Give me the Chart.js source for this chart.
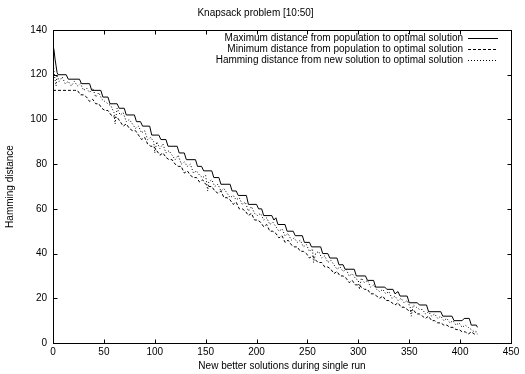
<!DOCTYPE html>
<html><head><meta charset="utf-8">
<script src="https://cdn.jsdelivr.net/npm/chart.js@4/dist/chart.umd.min.js"></script>
<style>html,body{margin:0;padding:0;background:#fff}#wrap{width:525px;height:374px}</style>
</head><body><div id="wrap"><canvas id="c" width="525" height="374"></canvas></div>
<script>
const titleText = 'Knapsack problem [10:50]';
const xTitle = 'New better solutions during single run';
const yTitle = 'Hamming distance';
const seriesLabels = [
  'Maximum distance from population to optimal solution',
  'Minimum distance from population to optimal solution',
  'Hamming distance from new solution to optimal solution'
];
const xTickStep = 50, xMax = 450, yTickStep = 20, yMax = 140;

const maxX = [0,1,2,3,4,5,13,15,26,28,36,38,47,49,54,56,63,65,70,72,80,82,86,88,95,97,104,106,111,113,122,124,129,131,140,142,146,148,156,158,163,165,174,176,180,182,190,192,200,202,205,207,215,217,219,221,228,230,236,238,245,247,252,254,263,265,270,272,279,281,285,287,296,298,307,309,315,317,326,328,334,336,339,341,348,350,358,360,367,369,381,383,392,394,402,404,409,411,416,417];
const maxY = [133,131,127,124,121,120,120,118,118,116,116,113,113,110,110,107,107,105,105,102,102,99,99,97,97,93,93,91,91,88,88,85,85,82,82,79,79,77,77,74,74,71,71,68,68,66,66,62,62,60,60,57,57,55,56,53,53,50,50,48,48,45,45,43,43,40,40,38,38,35,35,33,33,30,30,28,28,25,25,24,24,22,23,21,21,18,18,17,17,14,14,12,12,10,10,11,11,8,8,7];

const minX = [0,17,21,24,27,30,33,36,39,42,45,48,51,54,57,60,63,66,69,72,75,78,81,84,87,90,93,96,99,102,105,108,111,114,117,120,123,126,129,132,135,138,141,144,147,150,153,156,159,162,165,168,171,174,177,180,183,186,189,192,195,198,201,204,207,210,213,216,219,222,225,228,231,234,237,240,243,246,249,252,255,258,261,264,267,270,273,276,279,282,285,288,291,294,297,300,303,306,309,312,315,318,321,324,327,330,333,336,339,342,345,348,351,354,357,360,363,366,369,372,375,378,381,384,387,390,393,396,399,402,405,408,411,414,417];
const minY = [113,113,113,113,111,111,110,108,109,107,107,105,104,104,102,101,101,99,97,98,96,95,95,93,91,92,89,88,88,86,84,85,83,82,82,80,79,79,76,77,75,74,74,72,73,71,70,70,68,67,68,65,65,64,62,63,60,60,59,57,58,55,55,54,52,53,50,50,49,47,48,45,46,44,43,43,41,41,40,38,39,37,36,36,34,34,33,31,32,30,30,29,27,28,26,26,25,24,24,22,22,21,20,21,19,19,18,17,18,16,16,15,14,15,13,13,12,11,12,10,10,9,9,8,8,7,7,6,6,5,5,4,5,4,4];

const hamX = [0,1,2,3,4,6,9,12,15,18,21,24,27,30,33,36,39,42,45,48,51,54,57,60,61,63,66,69,72,75,78,81,84,87,90,93,96,99,100,102,105,108,111,114,117,120,123,126,129,132,135,138,141,144,147,150,152,153,156,159,162,165,168,171,174,177,180,183,186,189,192,195,198,201,204,207,210,213,216,219,222,225,228,231,234,237,240,243,246,249,252,255,256,258,261,264,267,270,273,276,279,282,285,288,291,294,297,300,301,303,306,309,312,315,318,321,324,327,330,333,336,339,342,345,348,351,352,354,357,360,363,366,369,372,375,378,381,384,387,390,393,396,399,402,405,408,411,414,417];
const hamY = [127,121,118,115,120,117,119,116,117,115,117,115,116,113,114,112,114,110,112,109,108,107,106,103,98,105,102,103,99,100,98,96,97,94,95,91,92,90,85,90,87,89,85,86,84,82,84,80,81,79,80,76,77,75,74,75,68,72,73,70,71,68,69,67,65,66,64,65,62,63,59,61,58,57,58,55,56,53,54,52,50,51,48,49,46,47,45,46,43,44,41,42,36,40,41,38,39,36,37,35,33,34,32,33,30,31,29,28,24,29,27,28,25,26,24,23,24,22,23,20,21,19,20,18,19,16,12,17,16,15,15,13,14,12,13,11,12,10,11,9,10,8,9,7,8,7,6,5,5];

const xyData = (xs, ys) => xs.map((v, i) => ({x: v, y: ys[i]}));

Chart.defaults.font.family = "'Liberation Sans', Arial, Helvetica, sans-serif";
Chart.defaults.font.size = 10;
Chart.defaults.color = '#000';

const framePlugin = {
  id: 'gpFrame',
  afterDraw(chart) {
    const {ctx, chartArea: a, scales: {x, y}} = chart;
    const L = 4;
    ctx.save();
    ctx.strokeStyle = '#000';
    ctx.lineWidth = 1;
    ctx.setLineDash([]);
    const l = Math.round(a.left) + 0.5, r = Math.round(a.right) + 0.5;
    const t = Math.round(a.top) + 0.5, b = Math.round(a.bottom) + 0.5;
    ctx.strokeRect(l, t, r - l, b - t);
    ctx.beginPath();
    x.ticks.forEach(tk => {
      const p = Math.round(x.getPixelForValue(tk.value)) + 0.5;
      ctx.moveTo(p, b); ctx.lineTo(p, b - L);
      ctx.moveTo(p, t); ctx.lineTo(p, t + L);
    });
    y.ticks.forEach(tk => {
      const p = Math.round(y.getPixelForValue(tk.value)) + 0.5;
      ctx.moveTo(l, p); ctx.lineTo(l + L, p);
      ctx.moveTo(r, p); ctx.lineTo(r - L, p);
    });
    ctx.stroke();
    ctx.restore();
  }
};

const legendPlugin = {
  id: 'gpLegend',
  afterDraw(chart) {
    const ctx = chart.ctx;
    const a = chart.chartArea;
    const textRight = a.right - 48, lineL = a.right - 43, lineR = a.right - 13;
    ctx.save();
    ctx.font = "10px 'Liberation Sans', Arial, sans-serif";
    ctx.textAlign = 'right';
    ctx.textBaseline = 'middle';
    ctx.fillStyle = '#000';
    chart.data.datasets.forEach((ds, i) => {
      const yy = a.top + 8 + i * 11;
      ctx.fillText(ds.label, textRight, yy);
      ctx.beginPath();
      ctx.setLineDash(ds.borderDash || []);
      ctx.strokeStyle = '#000';
      ctx.lineWidth = 1;
      ctx.moveTo(lineL, Math.round(yy) + 0.5);
      ctx.lineTo(lineR, Math.round(yy) + 0.5);
      ctx.stroke();
    });
    ctx.restore();
  }
};

new Chart(document.getElementById('c'), {
  type: 'line',
  data: {
    datasets: [
      {label: seriesLabels[0], data: xyData(maxX, maxY), borderColor: '#000', borderWidth: 1, pointRadius: 0, tension: 0, borderDash: []},
      {label: seriesLabels[1], data: xyData(minX, minY), borderColor: '#000', borderWidth: 1, pointRadius: 0, tension: 0, borderDash: [3, 2]},
      {label: seriesLabels[2], data: xyData(hamX, hamY), borderColor: '#000', borderWidth: 1, pointRadius: 0, tension: 0, borderDash: [1, 2]}
    ]
  },
  options: {
    responsive: false,
    animation: false,
    layout: {padding: {left: 0, right: 14, top: 0, bottom: 0}},
    plugins: {
      legend: {display: false},
      tooltip: {enabled: false},
      title: {display: true, text: titleText, font: {size: 10, weight: 'normal'}, color: '#000', padding: {top: 7, bottom: 11}}
    },
    scales: {
      x: {
        type: 'linear', min: 0, max: xMax,
        ticks: {stepSize: xTickStep, padding: 3, maxRotation: 0, autoSkip: false, color: '#000'},
        grid: {display: false, drawTicks: false},
        border: {display: false},
        title: {display: true, text: xTitle, color: '#000', padding: {top: 0, bottom: 2}},
        afterFit(s) { s.height = 31; }
      },
      y: {
        type: 'linear', min: 0, max: yMax,
        ticks: {stepSize: yTickStep, padding: 6, color: '#000'},
        grid: {display: false, drawTicks: false},
        border: {display: false},
        title: {display: true, text: yTitle, color: '#000', padding: {top: 4, bottom: 0}},
        afterFit(s) { s.width = 53; }
      }
    }
  },
  plugins: [framePlugin, legendPlugin]
});
</script>
</body></html>
